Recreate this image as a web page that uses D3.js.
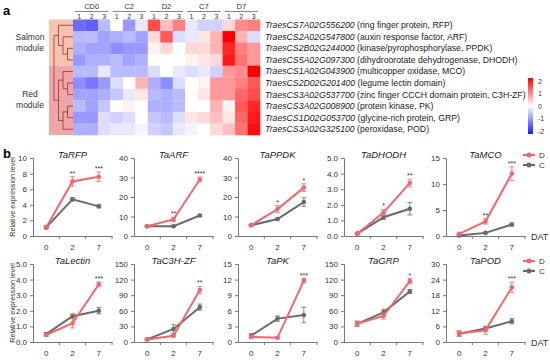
<!DOCTYPE html>
<html>
<head>
<meta charset="utf-8">
<script src="https://cdn.jsdelivr.net/npm/d3@7"></script>
<style>
  body { margin: 0; background: #fff; }
  svg { font-family: "Liberation Sans", Arial, sans-serif; }
</style>
</head>
<body>
<svg id="fig" width="550" height="360"></svg>
<script>
// ---- panel a: heatmap data ----
var geneIds = ["TraesCS7A02G556200", "TraesCS2A02G547800", "TraesCS2B02G244000", "TraesCS5A02G097300",
  "TraesCS1A02G043900", "TraesCS2D02G201400", "TraesCS3A02G537700", "TraesCS3A02G008900",
  "TraesCS1D02G053700", "TraesCS3A02G325100"];
var geneDesc = ["(ring finger protein, RFP)", "(auxin response factor, ARF)", "(kinase/pyrophosphorylase, PPDK)",
  "(dihydroorotate dehydrogenase, DHODH)", "(multicopper oxidase, MCO)", "(legume lectin domain)",
  "(zinc finger CCCH domain protein, C3H-ZF)", "(protein kinase, PK)", "(glycine-rich protein, GRP)",
  "(peroxidase, POD)"];
var groups = ["CD0", "C2", "D2", "C7", "D7"];
var reps = ["1", "2", "3"];
var heatValues = [
  [-1.3, -1.4, -0.6, 0.0, -0.9, -0.2, 1.4, 0.5, 1.0, -0.2, -0.4, -0.4, 0.3, 0.9, 1.0],
  [-0.6, -0.6, -0.8, -0.7, -0.6, -0.8, 0.3, 1.3, -0.3, -0.2, 0.2, 0.6, 2.0, 0.6, -0.3],
  [-0.7, -0.8, -0.8, -1.0, -0.9, -0.9, 0.1, 0.3, 0.0, 0.3, 0.3, 0.6, 1.7, 1.0, 0.8],
  [-0.9, -0.7, -0.7, -0.6, -0.8, -0.7, 0.0, 0.0, 0.0, 0.1, 0.2, 0.3, 1.8, 1.1, 0.8],
  [-0.6, -0.6, -0.2, -0.6, -0.6, -0.6, -0.3, 0.0, -0.2, -0.3, -0.2, -0.4, 0.8, 0.9, 2.1],
  [-1.0, -1.2, -0.9, -0.3, 0.0, 0.6, -0.7, -1.0, -0.3, 0.0, 0.1, 0.8, 0.8, 1.0, 1.3],
  [-0.8, -0.8, -0.7, -0.5, -0.2, 0.2, -0.6, -0.7, -0.6, 0.0, 0.2, 0.8, 0.8, 1.2, 1.4],
  [-0.6, -0.8, -0.5, 0.0, 0.1, 0.0, -0.7, -0.7, -0.6, 0.0, 0.0, 0.6, 0.1, 1.3, 1.7],
  [-0.9, -0.9, -0.3, -0.4, -0.3, 0.0, -0.5, -0.6, -0.3, 0.2, 0.3, 0.5, 0.2, 1.2, 1.8],
  [-0.7, -0.7, -0.3, -0.2, -0.2, -0.1, -0.4, -0.5, -0.2, -0.1, 0.0, 0.3, 0.5, 1.1, 1.9]
];
var legendTicks = [2, 1, 0, -1, -2];
// row clustering (leaf = row index)
var dendro = [[0, [1, [2, 3]]], [[4, [5, 6]], [[7, 8], 9]]];
var moduleRows = [[0, 3, "Salmon", "#f8c3ae"], [4, 9, "Red", "#efa6a6"]];

// ---- panel b: qPCR data ----
var genes = ["TaRFP", "TaARF", "TaPPDK", "TaDHODH", "TaMCO", "TaLectin", "TaC3H-ZF", "TaPK", "TaGRP", "TaPOD"];
var days = ["0", "2", "7"];
var dMean = [[1.1, 7.0, 7.6], [5, 8.5, 29], [5.5, 13.8, 24.8], [0.15, 1.5, 3.4], [0.4, 2.8, 12],
  [0.45, 1.2, 3.7], [5, 12, 100], [1.0, 0.8, 11.8], [35, 50, 117], [3.3, 4.5, 21]];
var dErr = [[0.15, 0.6, 0.6], [0.4, 1.0, 1.2], [0.4, 1.8, 2.0], [0.05, 0.2, 0.25], [0.1, 0.5, 1.3],
  [0.1, 0.3, 0.15], [1, 2, 7], [0.3, 0.1, 0.4], [5, 6, 5], [1, 1.5, 2]];
var cMean = [[1.1, 4.7, 3.8], [5, 5, 10.5], [5.5, 8.7, 17.4], [0.15, 1.2, 1.75], [0.1, 0.6, 2.2],
  [0.5, 1.65, 2.0], [5, 25, 67], [1.2, 4.5, 5.2], [35, 57, 97], [3.2, 5.2, 8]];
var cErr = [[0.15, 0.2, 0.2], [0.3, 0.3, 0.5], [0.3, 0.5, 2.2], [0.05, 0.15, 0.4], [0.05, 0.1, 0.3],
  [0.1, 0.15, 0.2], [1, 8, 6], [0.4, 0.5, 1.5], [5, 6, 4], [1, 0.8, 1]];
var stars = [["", "**", "***"], ["", "**", "****"], ["", "*", "*"], ["", "*", "**"], ["", "**", "***"],
  ["", "", "***"], ["", "", "**"], ["", "", "***"], ["", "", "*"], ["", "", "***"]];
var yMax = [10, 40, 40, 5, 15, 5, 150, 15, 150, 30];
var yStep = [2, 10, 10, 1, 5, 1, 30, 3, 30, 6];
var seriesNames = ["D", "C"];

var svg = d3.select("#fig");
var colD = "#f0686c", colC = "#6a6a6a";

// ================= panel a =================
var hx = d3.scaleBand().domain(d3.range(15)).range([73, 260]);
var hy = d3.scaleBand().domain(d3.range(10)).range([19.5, 135]);
var heatColor = d3.scaleLinear().domain([-2, 0, 2]).range(["#1a1aff", "#ffffff", "#ff0000"]);

svg.append("text").attr("x", 3).attr("y", 15).attr("font-size", 13).attr("font-weight", "bold").text("a");

// module backgrounds
svg.selectAll("rect.mod").data(moduleRows).enter().append("rect")
  .attr("x", 49).attr("width", 24)
  .attr("y", function(d) { return hy(d[0]); })
  .attr("height", function(d) { return hy(d[1]) + hy.bandwidth() - hy(d[0]); })
  .attr("fill", function(d) { return d[3]; });
moduleRows.forEach(function(m) {
  var cy = (hy(m[0]) + hy(m[1]) + hy.bandwidth()) / 2;
  var t = svg.append("text").attr("x", 30).attr("text-anchor", "middle")
    .attr("font-size", 8.5).attr("fill", "#333");
  t.append("tspan").attr("x", 30).attr("y", cy - 3).text(m[2]);
  t.append("tspan").attr("x", 30).attr("y", cy + 8).text("module");
});

// dendrogram
var root = d3.hierarchy(dendro, function(d) { return Array.isArray(d) ? d : null; });
d3.cluster().size([100, 18])(root);
root.eachAfter(function(n) {
  if (!n.children) n.x = hy(n.data) + hy.bandwidth() / 2;
  else n.x = (n.children[0].x + n.children[n.children.length - 1].x) / 2;
});
svg.append("g").selectAll("path").data(root.links()).enter().append("path")
  .attr("fill", "none").attr("stroke", "#9a3030").attr("stroke-width", 0.8)
  .attr("d", function(l) {
    return "M" + (54 + l.source.y) + "," + l.source.x + "V" + l.target.x + "H" + (l.target.children ? 54 + l.target.y : 73);
  });

// cells
var cells = [];
heatValues.forEach(function(row, r) { row.forEach(function(v, c) { cells.push({r: r, c: c, v: v}); }); });
svg.append("g").selectAll("rect").data(cells).enter().append("rect")
  .attr("x", function(d) { return hx(d.c); }).attr("y", function(d) { return hy(d.r); })
  .attr("width", hx.bandwidth() + 0.3).attr("height", hy.bandwidth() + 0.3)
  .attr("fill", function(d) { return heatColor(d.v); });

// column headers
groups.forEach(function(g, gi) {
  var x0 = hx(gi * 3), x1 = hx(gi * 3 + 2) + hx.bandwidth();
  svg.append("text").attr("x", (x0 + x1) / 2).attr("y", 9).attr("text-anchor", "middle")
    .attr("font-size", 7.5).attr("fill", "#333").text(g);
  svg.append("line").attr("x1", x0 + 2).attr("x2", x1 - 2).attr("y1", 11.5).attr("y2", 11.5)
    .attr("stroke", "#555").attr("stroke-width", 0.7);
  reps.forEach(function(rp, ri) {
    svg.append("text").attr("x", hx(gi * 3 + ri) + hx.bandwidth() / 2).attr("y", 18.5)
      .attr("text-anchor", "middle").attr("font-size", 7).attr("fill", "#333").text(rp);
  });
});

// gene labels
geneIds.forEach(function(id, i) {
  var t = svg.append("text").attr("x", 265).attr("y", hy(i) + hy.bandwidth() / 2 + 3)
    .attr("font-size", 8.7).attr("fill", "#222");
  t.append("tspan").attr("font-style", "italic").text(id);
  t.append("tspan").text(" " + geneDesc[i]);
});

// colour legend
var grad = svg.append("defs").append("linearGradient").attr("id", "hg")
  .attr("x1", 0).attr("x2", 0).attr("y1", 0).attr("y2", 1);
legendTicks.forEach(function(v, i) {
  grad.append("stop").attr("offset", i / (legendTicks.length - 1)).attr("stop-color", heatColor(v));
});
var ly = d3.scaleLinear().domain([-2, 2]).range([131, 81]);
svg.append("rect").attr("x", 528).attr("y", 78).attr("width", 5).attr("height", 56).attr("fill", "url(#hg)");
svg.selectAll("text.lt").data(legendTicks).enter().append("text")
  .attr("x", 538).attr("y", function(d) { return ly(d) + 2.5; })
  .attr("font-size", 7).attr("fill", "#333").text(function(d) { return d; });

// ================= panel b =================
svg.append("text").attr("x", 3).attr("y", 158).attr("font-size", 13).attr("font-weight", "bold").text("b");

var panelLefts = [33, 134, 238, 344, 446];
var rowTops = [158, 264];
var plotW = 79, plotH = 78;

genes.forEach(function(gene, gi) {
  var left = panelLefts[gi % 5], top = rowTops[Math.floor(gi / 5)];
  var g = svg.append("g").attr("transform", "translate(" + left + "," + top + ")");
  var x = d3.scaleBand().domain(days).range([0, plotW]);
  var y = d3.scaleLinear().domain([0, yMax[gi]]).range([plotH, 0]);

  var ya = g.append("g").call(d3.axisLeft(y).tickValues(d3.range(0, yMax[gi] + 0.001, yStep[gi])).tickSize(3).tickPadding(3));
  var xa = g.append("g").attr("transform", "translate(0," + plotH + ")")
    .call(d3.axisBottom(x).tickSize(0).tickPadding(8));
  // category tick marks between bands
  xa.selectAll("line.sep").data(days.slice(1).concat(["end"])).enter().append("line").attr("class", "sep")
    .attr("x1", function(d, i) { return (i + 1) * x.step(); })
    .attr("x2", function(d, i) { return (i + 1) * x.step(); })
    .attr("y1", 0).attr("y2", 3).attr("stroke", "#777");
  [ya, xa].forEach(function(a) {
    a.select(".domain").attr("stroke", "#777");
    a.selectAll(".tick line").attr("stroke", "#777");
    a.selectAll("text").attr("font-size", 8).attr("fill", "#333").attr("font-family", "Liberation Sans, Arial, sans-serif");
  });

  g.append("text").attr("x", plotW / 2).attr("y", 0).attr("text-anchor", "middle")
    .attr("font-size", 9.5).attr("font-style", "italic").attr("fill", "#222").text(gene);

  var cx = function(i) { return x(days[i]) + x.bandwidth() / 2; };
  var series = [[cMean[gi], cErr[gi], colC], [dMean[gi], dErr[gi], colD]];
  series.forEach(function(s) {
    var pts = s[0].map(function(v, i) { return {i: i, v: v, e: s[1][i]}; });
    var eb = g.append("g").attr("stroke", s[2]).attr("stroke-width", 0.8);
    eb.selectAll("line.v").data(pts).enter().append("line")
      .attr("x1", function(d) { return cx(d.i); }).attr("x2", function(d) { return cx(d.i); })
      .attr("y1", function(d) { return y(d.v - d.e); }).attr("y2", function(d) { return y(d.v + d.e); });
    [-1, 1].forEach(function(sg) {
      eb.selectAll("line.c" + sg).data(pts).enter().append("line")
        .attr("x1", function(d) { return cx(d.i) - 2.5; }).attr("x2", function(d) { return cx(d.i) + 2.5; })
        .attr("y1", function(d) { return y(d.v + sg * d.e); }).attr("y2", function(d) { return y(d.v + sg * d.e); });
    });
    g.append("path").datum(pts).attr("fill", "none").attr("stroke", s[2]).attr("stroke-width", 2)
      .attr("d", d3.line().x(function(d) { return cx(d.i); }).y(function(d) { return y(d.v); }));
    g.selectAll(null).data(pts).enter().append("circle")
      .attr("cx", function(d) { return cx(d.i); }).attr("cy", function(d) { return y(d.v); })
      .attr("r", 2.3).attr("fill", s[2]);
  });

  g.selectAll(null).data(stars[gi]).enter().append("text")
    .attr("x", function(d, i) { return cx(i); })
    .attr("y", function(d, i) { return y(dMean[gi][i] + dErr[gi][i]) - 1; })
    .attr("text-anchor", "middle").attr("font-size", 7).attr("fill", "#333").text(function(d) { return d; });

  if (gi % 5 === 0) {
    svg.append("text").attr("transform", "translate(15," + (top + plotH / 2) + ") rotate(-90)")
      .attr("text-anchor", "middle").attr("font-size", 7.2).attr("fill", "#333").text("Relative expression level");
  }
  if (gi % 5 === 4) {
    svg.append("text").attr("x", left + plotW + 6).attr("y", top + plotH + 4)
      .attr("font-size", 9).attr("fill", "#333").text("DAT");
    seriesNames.forEach(function(n, k) {
      var yy = top - 3 + k * 10, col = k === 0 ? colD : colC;
      svg.append("line").attr("x1", 523).attr("x2", 535).attr("y1", yy).attr("y2", yy)
        .attr("stroke", col).attr("stroke-width", 2);
      svg.append("circle").attr("cx", 529).attr("cy", yy).attr("r", 2.5).attr("fill", col);
      svg.append("text").attr("x", 539).attr("y", yy + 3).attr("font-size", 8).attr("fill", "#333").text(n);
    });
  }
});
</script>
</body>
</html>
